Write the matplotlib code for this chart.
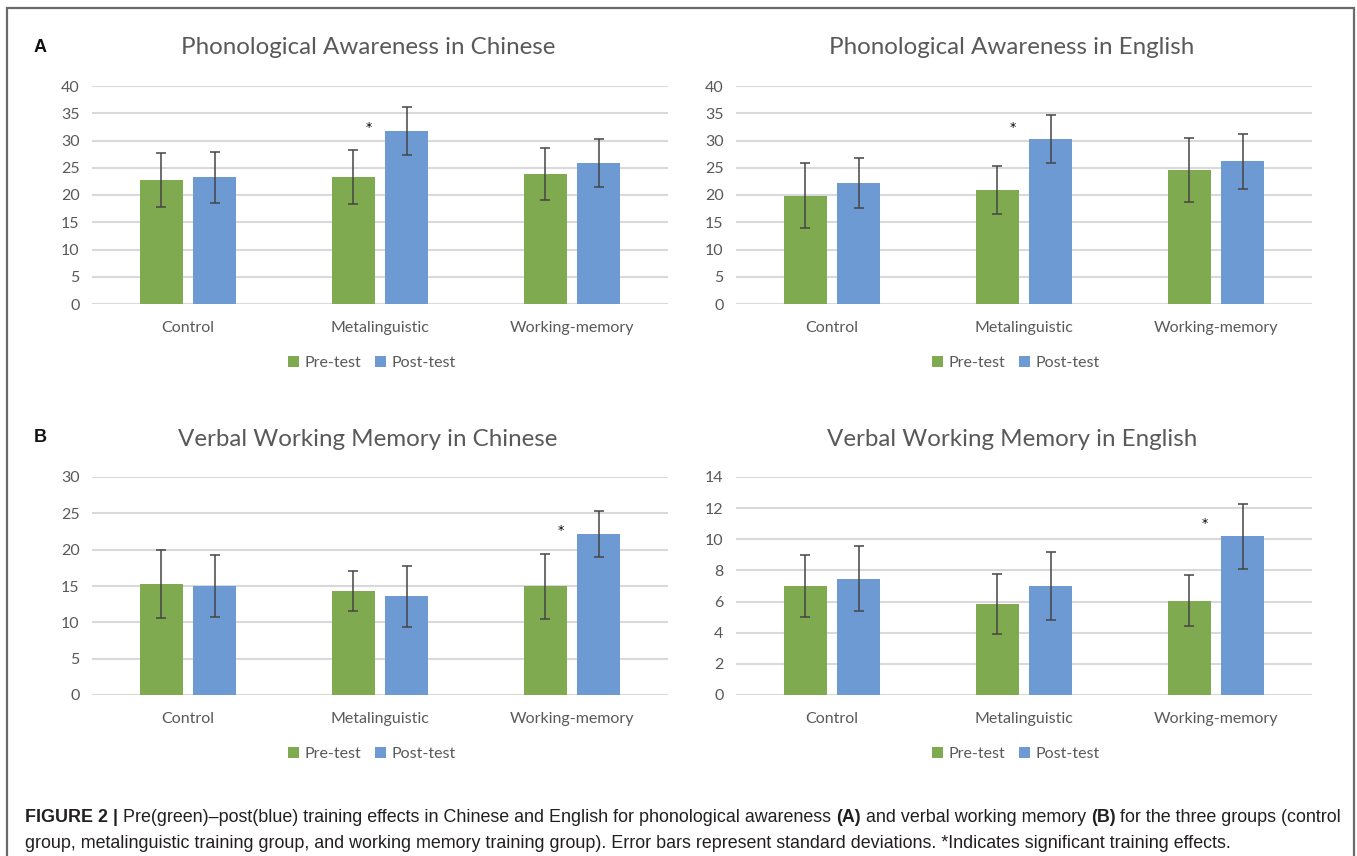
import matplotlib
matplotlib.use("Agg")
import matplotlib.pyplot as plt
from matplotlib.patches import Rectangle
import numpy as np

groups = ["Control", "Metalinguistic", "Working-memory"]

# phonological awareness, Chinese
pa_cn_pre = [22.8, 23.3, 23.9]
pa_cn_pre_sd = [4.95, 4.95, 4.75]
pa_cn_post = [23.25, 31.8, 25.9]
pa_cn_post_sd = [4.7, 4.4, 4.45]
# phonological awareness, English
pa_en_pre = [19.9, 20.9, 24.6]
pa_en_pre_sd = [5.95, 4.35, 5.85]
pa_en_post = [22.15, 30.3, 26.2]
pa_en_post_sd = [4.55, 4.35, 5.05]
# verbal working memory, Chinese
wm_cn_pre = [15.3, 14.3, 14.95]
wm_cn_pre_sd = [4.7, 2.75, 4.45]
wm_cn_post = [15.0, 13.6, 22.2]
wm_cn_post_sd = [4.25, 4.2, 3.15]
# verbal working memory, English
wm_en_pre = [6.98, 5.82, 6.06]
wm_en_pre_sd = [2.0, 1.93, 1.62]
wm_en_post = [7.47, 6.98, 10.18]
wm_en_post_sd = [2.1, 2.18, 2.08]

GREEN = "#80AA4F"
BLUE = "#6E9AD4"
GRID = "#D9D9D9"
TXT = "#595959"
FONT = ["Lato", "DejaVu Sans"]

W, H = 1357, 856
fig = plt.figure(figsize=(W / 100, H / 100), dpi=100)
fig.patch.set_facecolor("white")

# outer frame
fig.patches.append(Rectangle((7 / W, -0.01), (1354 - 7) / W, 1.01 - 8 / H, transform=fig.transFigure,
                             fill=False, edgecolor="#6a6a6a", lw=1.6))


def panel(x0, y0, title, pre, pre_sd, post, post_sd, ymax, step, star_i, star_y):
    ax = fig.add_axes([x0 / W, 1 - y0 / H, 576 / W, 218 / H])
    x = np.arange(len(groups))
    bw = 0.224
    ek = dict(ecolor="#454545", elinewidth=1.1, capsize=3.5, capthick=1.1)
    ax.bar(x - 0.14, pre, bw, color=GREEN, yerr=pre_sd, error_kw=ek, zorder=3, label="Pre-test")
    ax.bar(x + 0.14, post, bw, color=BLUE, yerr=post_sd, error_kw=ek, zorder=3, label="Post-test")
    ax.text(star_i - 0.06, star_y, "*", ha="center", va="center", fontsize=9, color="black", zorder=4)
    ax.set_xlim(-0.5, 2.5)
    ax.set_ylim(0, ymax)
    ax.set_yticks(np.arange(0, ymax + step / 2, step))
    ax.grid(axis="y", color=GRID, lw=1.5, zorder=0)
    ax.set_axisbelow(True)
    for s in ax.spines.values():
        s.set_visible(False)
    ax.tick_params(length=0, labelsize=11.5, labelcolor=TXT, pad=9)
    ax.tick_params(axis="x", pad=12)
    ax.set_xticks(x)
    ax.set_xticklabels(groups)
    for lab in ax.get_xticklabels() + ax.get_yticklabels():
        lab.set_family(FONT)
    ax.text(0.5 - 12 / 576, 1 + 38 / 218, title, transform=ax.transAxes, ha="center", va="center",
            fontsize=17.4, color=TXT, family=FONT)
    leg = ax.legend(loc="center", bbox_to_anchor=(0.5 - 8 / 576, -59 / 218), ncol=2, frameon=False,
                    handlelength=0.65, handleheight=0.65, handletextpad=0.35, columnspacing=0.9,
                    prop={"family": FONT, "size": 11.5})
    for t in leg.get_texts():
        t.set_color(TXT)
    return ax


panel(92, 304, "Phonological Awareness in Chinese", pa_cn_pre, pa_cn_pre_sd, pa_cn_post, pa_cn_post_sd,
      40, 5, 1, 32.3)
panel(736, 304, "Phonological Awareness in English", pa_en_pre, pa_en_pre_sd, pa_en_post, pa_en_post_sd,
      40, 5, 1, 32.3)
panel(92, 695, "Verbal Working Memory in Chinese", wm_cn_pre, wm_cn_pre_sd, wm_cn_post, wm_cn_post_sd,
      30, 5, 2, 22.6)
panel(736, 695, "Verbal Working Memory in English", wm_en_pre, wm_en_pre_sd, wm_en_post, wm_en_post_sd,
      14, 2, 2, 11.0)

fig.text(40 / W, 1 - 47 / H, "A", fontsize=13, fontweight="bold", family="Liberation Sans",
         ha="center", va="center", color="#111111")
fig.text(40 / W, 1 - 438 / H, "B", fontsize=13, fontweight="bold", family="Liberation Sans",
         ha="center", va="center", color="#111111")

# caption, drawn piece by piece so the bold parts sit inline
CAP = "#231F20"
line1 = [("FIGURE 2 | ", "bold"),
         ("Pre(green)–post(blue) training effects in Chinese and English for phonological awareness ", "normal"),
         ("(A)", "bold"),
         (" and verbal working memory ", "normal"),
         ("(B)", "bold"),
         (" for the three groups (control", "normal")]
line2 = [("group, metalinguistic training group, and working memory training group). Error bars represent "
          "standard deviations. *Indicates significant training effects.", "normal")]
fig.canvas.draw()
r = fig.canvas.get_renderer()
for parts, ypix in ((line1, 818), (line2, 843)):
    xpix = 25
    for s, wgt in parts:
        t = fig.text(xpix / W, 1 - ypix / H, s, fontsize=12.9, fontweight=wgt, family="Liberation Sans",
                     color=CAP, ha="left", va="center")
        xpix += t.get_window_extent(renderer=r).width

fig.savefig("out.png", dpi=100, facecolor="white")
